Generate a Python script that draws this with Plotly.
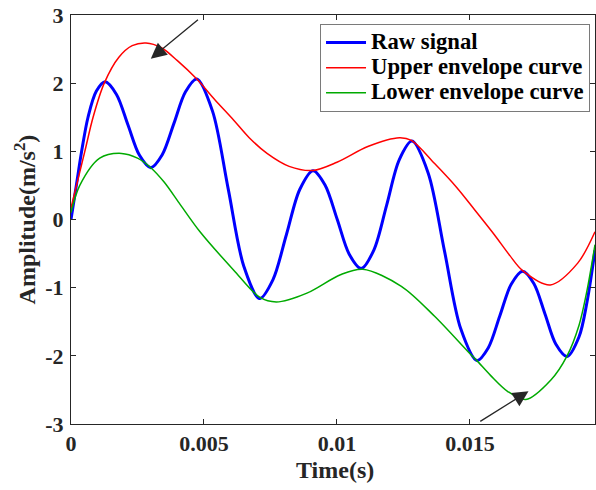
import plotly.graph_objects as go

# ---- data ----
raw_t = [0, 0.0002, 0.0004, 0.00064, 0.00095, 0.00128, 0.00171, 0.00214, 0.00257, 0.00300,
         0.00343, 0.00387, 0.00430, 0.00473, 0.00532, 0.00591, 0.00650, 0.00709, 0.00759,
         0.00810, 0.00860, 0.00910, 0.00955, 0.01001, 0.01046, 0.01091, 0.01139, 0.01187,
         0.01234, 0.01282, 0.01343, 0.01404, 0.01465, 0.01526, 0.01569, 0.01612, 0.01655,
         0.01698, 0.01740, 0.01782, 0.01823, 0.01865, 0.0191, 0.0194, 0.0197]
raw_v = [0.0, 0.5, 1.0, 1.5, 1.88, 2.02, 1.835, 1.39, 0.945, 0.76,
         0.95, 1.41, 1.87, 2.06, 1.59, 0.45, -0.69, -1.16, -0.885,
         -0.22, 0.44, 0.715, 0.505, 0.0, -0.51, -0.72, -0.445, 0.215,
         0.875, 1.15, 0.68, -0.46, -1.60, -2.07, -1.88, -1.415, -0.95,
         -0.76, -0.94, -1.385, -1.83, -2.01, -1.72, -1.21, -0.45]

upper_t = [0, 0.00052, 0.00083, 0.00125, 0.0018, 0.0023, 0.00282, 0.0034, 0.0040, 0.00473,
           0.0054, 0.00611, 0.0067, 0.00737, 0.0082, 0.0091, 0.0100, 0.01116, 0.01235,
           0.0128, 0.01367, 0.0145, 0.01518, 0.01591, 0.0165, 0.01698, 0.01802, 0.01905, 0.0197]
upper_v = [0.17, 1.0, 1.5, 2.0, 2.38, 2.55, 2.59, 2.52, 2.33, 2.06,
           1.76, 1.46, 1.2, 0.97, 0.78, 0.72, 0.84, 1.07, 1.20,
           1.16, 0.82, 0.47, 0.14, -0.22, -0.53, -0.75, -0.96, -0.64, -0.18]

lower_t = [0, 0.00033, 0.00108, 0.0019, 0.0025, 0.0030, 0.0035, 0.00407, 0.00485, 0.00611,
           0.00709, 0.00772, 0.00887, 0.01013, 0.01097, 0.01242, 0.01367, 0.01493, 0.01526,
           0.01578, 0.01641, 0.0171, 0.01805, 0.01865, 0.0191, 0.0194, 0.0197]
lower_v = [0.1, 0.5, 0.9, 0.97, 0.9, 0.76, 0.55, 0.24, -0.18, -0.74,
           -1.14, -1.21, -1.08, -0.81, -0.73, -0.98, -1.42, -1.94, -2.07,
           -2.29, -2.52, -2.64, -2.35, -2.0, -1.55, -1.04, -0.37]

series_names = ["Raw signal", "Upper envelope curve", "Lower envelope curve"]
x_ticks = [0, 0.005, 0.01, 0.015]
x_tick_labels = ["0", "0.005", "0.01", "0.015"]
y_ticks = [-3, -2, -1, 0, 1, 2, 3]
y_tick_labels = ["-3", "-2", "-1", "0", "1", "2", "3"]

FONT = "Liberation Serif, Times New Roman, serif"
AX = "#262626"


def legend_label(s):
    return '<span style="font-size:22.7px">' + s + '</span>'


fig = go.Figure()
fig.add_trace(go.Scatter(x=raw_t, y=raw_v, mode="lines", name=legend_label(series_names[0]),
                         line=dict(color="#0000FF", width=3, shape="spline", smoothing=0.9)))
fig.add_trace(go.Scatter(x=upper_t, y=upper_v, mode="lines", name=legend_label(series_names[1]),
                         line=dict(color="#FF0000", width=1.5, shape="spline", smoothing=0.9)))
fig.add_trace(go.Scatter(x=lower_t, y=lower_v, mode="lines", name=legend_label(series_names[2]),
                         line=dict(color="#00AA00", width=1.5, shape="spline", smoothing=0.9)))

arrow = dict(xref="x", yref="y", axref="x", ayref="y", text="", showarrow=True,
             arrowhead=2, arrowsize=2.4, arrowwidth=1.3, arrowcolor=AX)
fig.add_annotation(x=0.0030, y=2.36, ax=0.00483, ay=2.95, **arrow)
fig.add_annotation(x=0.0172, y=-2.52, ax=0.01533, ay=-2.975, **arrow)

# axis titles
fig.add_annotation(text="Time(s)", xref="paper", yref="paper", x=0.504, y=-0.1125,
                   xanchor="center", yanchor="middle", showarrow=False,
                   font=dict(family=FONT, size=24, color=AX, weight="bold"))
fig.add_annotation(text="Amplitude(m/s<sup>2</sup>)", xref="paper", yref="paper",
                   x=-0.088, y=0.5, textangle=-90, xanchor="center", yanchor="middle",
                   showarrow=False, font=dict(family=FONT, size=24, color=AX, weight="bold"))

fig.update_layout(
    width=596, height=490,
    margin=dict(l=71, r=1, t=15, b=66, autoexpand=False),
    plot_bgcolor="white", paper_bgcolor="white",
    font=dict(family=FONT, size=22, color=AX, weight="bold"),
    showlegend=True,
    legend=dict(x=0.9905, y=0.978, xanchor="right", yanchor="top",
                bgcolor="white", bordercolor="#7a7a7a", borderwidth=1,
                font=dict(family=FONT, size=17, color="black", weight="bold"),
                tracegroupgap=0, itemwidth=40),
    xaxis=dict(range=[0, 0.0197], tickvals=x_ticks, ticktext=x_tick_labels, automargin=False,
               showgrid=False, zeroline=False, showline=True, linecolor=AX, linewidth=1,
               mirror="ticks", ticks="inside", ticklen=5, tickcolor=AX,
               ticklabeloverflow="allow",
               tickfont=dict(family=FONT, size=22, color=AX, weight="bold")),
    yaxis=dict(range=[-3, 3], tickvals=y_ticks, ticktext=y_tick_labels, automargin=False,
               showgrid=False, zeroline=False, showline=True, linecolor=AX, linewidth=1,
               mirror="ticks", ticks="inside", ticklen=5, tickcolor=AX, ticklabelstandoff=2,
               ticklabeloverflow="allow",
               tickfont=dict(family=FONT, size=22, color=AX, weight="bold")),
)

# remove the browser's default 8px page margin so the figure sits at the window origin
fig.write_html("out.html", config={"displayModeBar": False},
               post_script="document.body.style.margin='0';document.body.style.overflow='hidden';")
